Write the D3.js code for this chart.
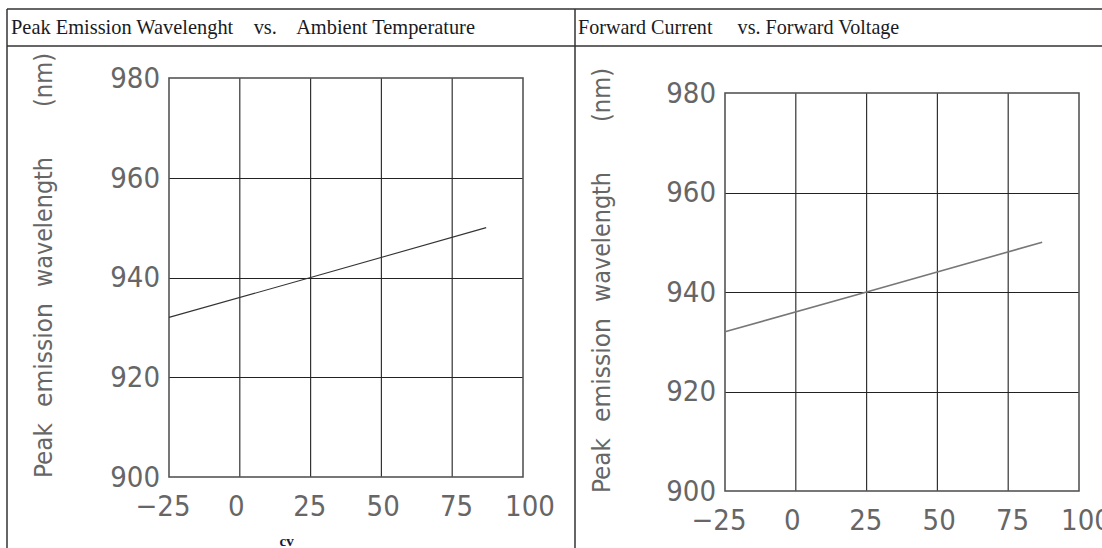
<!DOCTYPE html>
<html>
<head>
<meta charset="utf-8">
<script src="https://cdn.jsdelivr.net/npm/d3@7"></script>
<style>
    body { margin: 0; background: #fff; }
    svg { display: block; }
    .hdr { font-family: "Liberation Serif", "Times New Roman", serif; fill: #1a1a24; white-space: pre; }
    .tick text { font-family: "DejaVu Sans Condensed", "DejaVu Sans", sans-serif; fill: #666; }
</style>
</head>
<body>
<script>
// peak wavelength vs ambient temperature (same curve on both panels)
var tempC = [-25, 25, 87];
var peakNm = [932, 940, 950];

var xTicks = [-25, 0, 25, 50, 75, 100];
var yTicks = [900, 920, 940, 960, 980];

var headerLeft = "Peak Emission Wavelenght    vs.    Ambient Temperature";
var headerRight = "Forward Current     vs. Forward Voltage";
var yTitleWords = ["Peak", "emission", "wavelength", "(nm)"];
var xUnitLeft = "cv";

var svg = d3.select("body")
    .append("svg")
    .attr("width", 1102)
    .attr("height", 548);

// table frame
var frame = svg.append("g")
    .attr("stroke", "#333")
    .attr("stroke-width", 1.5);
frame.append("line").attr("x1", 7).attr("x2", 1102).attr("y1", 9).attr("y2", 9);
frame.append("line").attr("x1", 7).attr("x2", 1102).attr("y1", 46).attr("y2", 46);
frame.append("line").attr("x1", 7).attr("x2", 7).attr("y1", 9).attr("y2", 548);
frame.append("line").attr("x1", 575).attr("x2", 575).attr("y1", 9).attr("y2", 548);

svg.append("text").attr("class", "hdr").attr("x", 11).attr("y", 34)
    .attr("font-size", 20.4).text(headerLeft);
svg.append("text").attr("class", "hdr").attr("x", 578).attr("y", 34)
    .attr("font-size", 20.1).text(headerRight);

function fmt(d) {
    return d < 0 ? "\u2212" + Math.abs(d) : String(d);
}

function drawPanel(p) {
    var x = d3.scaleLinear().domain([-25, 100]).range([p.left, p.right]);
    var y = d3.scaleLinear().domain([900, 980]).range([p.bottom, p.top]);

    var g = svg.append("g");

    // grid
    g.selectAll(".vgrid")
        .data(xTicks.slice(1, -1))
        .enter()
        .append("line")
        .attr("x1", function (d) { return x(d); })
        .attr("x2", function (d) { return x(d); })
        .attr("y1", y(980))
        .attr("y2", y(900))
        .attr("stroke", "#333")
        .attr("stroke-width", 1.2);

    g.selectAll(".hgrid")
        .data(yTicks.slice(1, -1))
        .enter()
        .append("line")
        .attr("x1", x(-25))
        .attr("x2", x(100))
        .attr("y1", function (d) { return Math.round(y(d)) + 0.5; })
        .attr("y2", function (d) { return Math.round(y(d)) + 0.5; })
        .attr("stroke", "#222")
        .attr("stroke-width", 1);

    // plot box
    g.append("rect")
        .attr("x", x(-25))
        .attr("y", y(980))
        .attr("width", x(100) - x(-25))
        .attr("height", y(900) - y(980))
        .attr("fill", "none")
        .attr("stroke", "#555")
        .attr("stroke-width", 1.6);

    // curve
    var line = d3.line()
        .x(function (d, i) { return x(tempC[i]); })
        .y(function (d) { return y(d); });

    g.append("path")
        .datum(peakNm)
        .attr("d", line)
        .attr("fill", "none")
        .attr("stroke", p.lineColor)
        .attr("stroke-width", p.lineWidth);

    // axes labels
    var xAxis = d3.axisBottom(x).tickValues(xTicks).tickFormat(fmt).tickSize(0).tickPadding(18);
    var yAxis = d3.axisLeft(y).tickValues(yTicks).tickFormat(fmt).tickSize(0).tickPadding(9);

    var xa = g.append("g")
        .attr("transform", "translate(0," + y(900) + ")")
        .call(xAxis);
    xa.select(".domain").remove();
    // labels in the drawing sit a bit wider apart than the grid
    xa.selectAll("text")
        .style("font-size", "29px")
        .attr("dx", function (d, i) { return (i - 2.5) * 2.6; });

    var ya = g.append("g")
        .attr("transform", "translate(" + x(-25) + ",0)")
        .call(yAxis);
    ya.select(".domain").remove();
    ya.selectAll("text").style("font-size", "29px");

    // y title: CAD lettering, each word stretched to its drawn length
    var wordLen = [55, 104, 130, 54];
    var gaps = [0, 16, 16, 50];
    var pos = 0;
    var starts = wordLen.map(function (w, i) {
        pos += gaps[i];
        var s = pos;
        pos += w;
        return s;
    });
    var t = g.append("g")
        .attr("transform", "translate(" + p.titleX + "," + p.titleBottom + ") rotate(-90)");
    t.selectAll("text")
        .data(yTitleWords)
        .enter()
        .append("text")
        .attr("x", function (d, i) { return starts[i]; })
        .attr("textLength", function (d, i) { return wordLen[i]; })
        .attr("lengthAdjust", "spacingAndGlyphs")
        .attr("font-family", "DejaVu Sans Condensed, DejaVu Sans, sans-serif")
        .attr("font-size", 25)
        .attr("fill", "#666")
        .text(function (d) { return d; });

    if (p.unit) {
        g.append("text")
            .attr("x", x(25) - 24)
            .attr("y", 546)
            .attr("text-anchor", "middle")
            .attr("font-family", "Liberation Serif, serif")
            .attr("font-weight", "bold")
            .attr("font-size", 15)
            .attr("fill", "#1a1a3a")
            .text(p.unit);
    }
}

drawPanel({left: 169, right: 523, top: 78, bottom: 477, titleX: 52, titleBottom: 478,
    lineColor: "#333", lineWidth: 1.1, unit: xUnitLeft});
drawPanel({left: 725, right: 1079, top: 93, bottom: 491, titleX: 610, titleBottom: 493,
    lineColor: "#777", lineWidth: 1.6, unit: null});
</script>
</body>
</html>
